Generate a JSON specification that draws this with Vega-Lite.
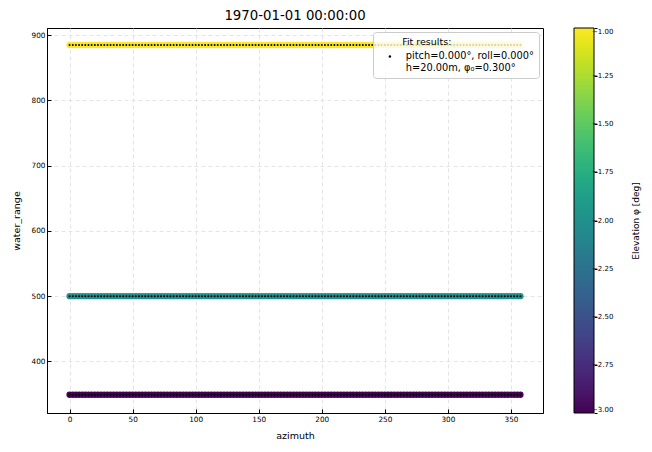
{
  "$schema": "https://vega.github.io/schema/vega-lite/v6.json",
  "width": 496,
  "height": 385,
  "autosize": "none",
  "padding": {"left": 47, "top": 28, "right": 109, "bottom": 39},
  "title": {"text": "1970-01-01 00:00:00", "fontSize": 13.3, "fontWeight": "normal", "font": "DejaVu Sans", "color": "black", "offset": 5},
  "datasets": {
    "points": [
      {"azimuth":0,"water_range":885,"elevation":-1},{"azimuth":2.5,"water_range":885,"elevation":-1},{"azimuth":5,"water_range":885,"elevation":-1},{"azimuth":7.5,"water_range":885,"elevation":-1},{"azimuth":10,"water_range":885,"elevation":-1},{"azimuth":12.5,"water_range":885,"elevation":-1},{"azimuth":15,"water_range":885,"elevation":-1},{"azimuth":17.5,"water_range":885,"elevation":-1},{"azimuth":20,"water_range":885,"elevation":-1},{"azimuth":22.5,"water_range":885,"elevation":-1},{"azimuth":25,"water_range":885,"elevation":-1},{"azimuth":27.5,"water_range":885,"elevation":-1},{"azimuth":30,"water_range":885,"elevation":-1},{"azimuth":32.5,"water_range":885,"elevation":-1},{"azimuth":35,"water_range":885,"elevation":-1},{"azimuth":37.5,"water_range":885,"elevation":-1},{"azimuth":40,"water_range":885,"elevation":-1},{"azimuth":42.5,"water_range":885,"elevation":-1},{"azimuth":45,"water_range":885,"elevation":-1},{"azimuth":47.5,"water_range":885,"elevation":-1},{"azimuth":50,"water_range":885,"elevation":-1},{"azimuth":52.5,"water_range":885,"elevation":-1},{"azimuth":55,"water_range":885,"elevation":-1},{"azimuth":57.5,"water_range":885,"elevation":-1},{"azimuth":60,"water_range":885,"elevation":-1},{"azimuth":62.5,"water_range":885,"elevation":-1},{"azimuth":65,"water_range":885,"elevation":-1},{"azimuth":67.5,"water_range":885,"elevation":-1},{"azimuth":70,"water_range":885,"elevation":-1},{"azimuth":72.5,"water_range":885,"elevation":-1},{"azimuth":75,"water_range":885,"elevation":-1},{"azimuth":77.5,"water_range":885,"elevation":-1},{"azimuth":80,"water_range":885,"elevation":-1},{"azimuth":82.5,"water_range":885,"elevation":-1},{"azimuth":85,"water_range":885,"elevation":-1},{"azimuth":87.5,"water_range":885,"elevation":-1},{"azimuth":90,"water_range":885,"elevation":-1},{"azimuth":92.5,"water_range":885,"elevation":-1},{"azimuth":95,"water_range":885,"elevation":-1},{"azimuth":97.5,"water_range":885,"elevation":-1},{"azimuth":100,"water_range":885,"elevation":-1},{"azimuth":102.5,"water_range":885,"elevation":-1},{"azimuth":105,"water_range":885,"elevation":-1},{"azimuth":107.5,"water_range":885,"elevation":-1},{"azimuth":110,"water_range":885,"elevation":-1},{"azimuth":112.5,"water_range":885,"elevation":-1},{"azimuth":115,"water_range":885,"elevation":-1},{"azimuth":117.5,"water_range":885,"elevation":-1},{"azimuth":120,"water_range":885,"elevation":-1},{"azimuth":122.5,"water_range":885,"elevation":-1},{"azimuth":125,"water_range":885,"elevation":-1},{"azimuth":127.5,"water_range":885,"elevation":-1},{"azimuth":130,"water_range":885,"elevation":-1},{"azimuth":132.5,"water_range":885,"elevation":-1},{"azimuth":135,"water_range":885,"elevation":-1},{"azimuth":137.5,"water_range":885,"elevation":-1},{"azimuth":140,"water_range":885,"elevation":-1},{"azimuth":142.5,"water_range":885,"elevation":-1},{"azimuth":145,"water_range":885,"elevation":-1},{"azimuth":147.5,"water_range":885,"elevation":-1},{"azimuth":150,"water_range":885,"elevation":-1},{"azimuth":152.5,"water_range":885,"elevation":-1},{"azimuth":155,"water_range":885,"elevation":-1},{"azimuth":157.5,"water_range":885,"elevation":-1},{"azimuth":160,"water_range":885,"elevation":-1},{"azimuth":162.5,"water_range":885,"elevation":-1},{"azimuth":165,"water_range":885,"elevation":-1},{"azimuth":167.5,"water_range":885,"elevation":-1},{"azimuth":170,"water_range":885,"elevation":-1},{"azimuth":172.5,"water_range":885,"elevation":-1},{"azimuth":175,"water_range":885,"elevation":-1},{"azimuth":177.5,"water_range":885,"elevation":-1},{"azimuth":180,"water_range":885,"elevation":-1},{"azimuth":182.5,"water_range":885,"elevation":-1},{"azimuth":185,"water_range":885,"elevation":-1},{"azimuth":187.5,"water_range":885,"elevation":-1},{"azimuth":190,"water_range":885,"elevation":-1},{"azimuth":192.5,"water_range":885,"elevation":-1},{"azimuth":195,"water_range":885,"elevation":-1},{"azimuth":197.5,"water_range":885,"elevation":-1},{"azimuth":200,"water_range":885,"elevation":-1},{"azimuth":202.5,"water_range":885,"elevation":-1},{"azimuth":205,"water_range":885,"elevation":-1},{"azimuth":207.5,"water_range":885,"elevation":-1},{"azimuth":210,"water_range":885,"elevation":-1},{"azimuth":212.5,"water_range":885,"elevation":-1},{"azimuth":215,"water_range":885,"elevation":-1},{"azimuth":217.5,"water_range":885,"elevation":-1},{"azimuth":220,"water_range":885,"elevation":-1},{"azimuth":222.5,"water_range":885,"elevation":-1},{"azimuth":225,"water_range":885,"elevation":-1},{"azimuth":227.5,"water_range":885,"elevation":-1},{"azimuth":230,"water_range":885,"elevation":-1},{"azimuth":232.5,"water_range":885,"elevation":-1},{"azimuth":235,"water_range":885,"elevation":-1},{"azimuth":237.5,"water_range":885,"elevation":-1},{"azimuth":240,"water_range":885,"elevation":-1},{"azimuth":242.5,"water_range":885,"elevation":-1},{"azimuth":245,"water_range":885,"elevation":-1},{"azimuth":247.5,"water_range":885,"elevation":-1},{"azimuth":250,"water_range":885,"elevation":-1},{"azimuth":252.5,"water_range":885,"elevation":-1},{"azimuth":255,"water_range":885,"elevation":-1},{"azimuth":257.5,"water_range":885,"elevation":-1},{"azimuth":260,"water_range":885,"elevation":-1},{"azimuth":262.5,"water_range":885,"elevation":-1},{"azimuth":265,"water_range":885,"elevation":-1},{"azimuth":267.5,"water_range":885,"elevation":-1},{"azimuth":270,"water_range":885,"elevation":-1},{"azimuth":272.5,"water_range":885,"elevation":-1},{"azimuth":275,"water_range":885,"elevation":-1},{"azimuth":277.5,"water_range":885,"elevation":-1},{"azimuth":280,"water_range":885,"elevation":-1},{"azimuth":282.5,"water_range":885,"elevation":-1},{"azimuth":285,"water_range":885,"elevation":-1},{"azimuth":287.5,"water_range":885,"elevation":-1},{"azimuth":290,"water_range":885,"elevation":-1},{"azimuth":292.5,"water_range":885,"elevation":-1},{"azimuth":295,"water_range":885,"elevation":-1},{"azimuth":297.5,"water_range":885,"elevation":-1},{"azimuth":300,"water_range":885,"elevation":-1},{"azimuth":302.5,"water_range":885,"elevation":-1},{"azimuth":305,"water_range":885,"elevation":-1},{"azimuth":307.5,"water_range":885,"elevation":-1},{"azimuth":310,"water_range":885,"elevation":-1},{"azimuth":312.5,"water_range":885,"elevation":-1},{"azimuth":315,"water_range":885,"elevation":-1},{"azimuth":317.5,"water_range":885,"elevation":-1},{"azimuth":320,"water_range":885,"elevation":-1},{"azimuth":322.5,"water_range":885,"elevation":-1},{"azimuth":325,"water_range":885,"elevation":-1},{"azimuth":327.5,"water_range":885,"elevation":-1},{"azimuth":330,"water_range":885,"elevation":-1},{"azimuth":332.5,"water_range":885,"elevation":-1},{"azimuth":335,"water_range":885,"elevation":-1},{"azimuth":337.5,"water_range":885,"elevation":-1},{"azimuth":340,"water_range":885,"elevation":-1},{"azimuth":342.5,"water_range":885,"elevation":-1},{"azimuth":345,"water_range":885,"elevation":-1},{"azimuth":347.5,"water_range":885,"elevation":-1},{"azimuth":350,"water_range":885,"elevation":-1},{"azimuth":352.5,"water_range":885,"elevation":-1},{"azimuth":355,"water_range":885,"elevation":-1},{"azimuth":357.5,"water_range":885,"elevation":-1},
      {"azimuth":0,"water_range":500,"elevation":-2},{"azimuth":2.5,"water_range":500,"elevation":-2},{"azimuth":5,"water_range":500,"elevation":-2},{"azimuth":7.5,"water_range":500,"elevation":-2},{"azimuth":10,"water_range":500,"elevation":-2},{"azimuth":12.5,"water_range":500,"elevation":-2},{"azimuth":15,"water_range":500,"elevation":-2},{"azimuth":17.5,"water_range":500,"elevation":-2},{"azimuth":20,"water_range":500,"elevation":-2},{"azimuth":22.5,"water_range":500,"elevation":-2},{"azimuth":25,"water_range":500,"elevation":-2},{"azimuth":27.5,"water_range":500,"elevation":-2},{"azimuth":30,"water_range":500,"elevation":-2},{"azimuth":32.5,"water_range":500,"elevation":-2},{"azimuth":35,"water_range":500,"elevation":-2},{"azimuth":37.5,"water_range":500,"elevation":-2},{"azimuth":40,"water_range":500,"elevation":-2},{"azimuth":42.5,"water_range":500,"elevation":-2},{"azimuth":45,"water_range":500,"elevation":-2},{"azimuth":47.5,"water_range":500,"elevation":-2},{"azimuth":50,"water_range":500,"elevation":-2},{"azimuth":52.5,"water_range":500,"elevation":-2},{"azimuth":55,"water_range":500,"elevation":-2},{"azimuth":57.5,"water_range":500,"elevation":-2},{"azimuth":60,"water_range":500,"elevation":-2},{"azimuth":62.5,"water_range":500,"elevation":-2},{"azimuth":65,"water_range":500,"elevation":-2},{"azimuth":67.5,"water_range":500,"elevation":-2},{"azimuth":70,"water_range":500,"elevation":-2},{"azimuth":72.5,"water_range":500,"elevation":-2},{"azimuth":75,"water_range":500,"elevation":-2},{"azimuth":77.5,"water_range":500,"elevation":-2},{"azimuth":80,"water_range":500,"elevation":-2},{"azimuth":82.5,"water_range":500,"elevation":-2},{"azimuth":85,"water_range":500,"elevation":-2},{"azimuth":87.5,"water_range":500,"elevation":-2},{"azimuth":90,"water_range":500,"elevation":-2},{"azimuth":92.5,"water_range":500,"elevation":-2},{"azimuth":95,"water_range":500,"elevation":-2},{"azimuth":97.5,"water_range":500,"elevation":-2},{"azimuth":100,"water_range":500,"elevation":-2},{"azimuth":102.5,"water_range":500,"elevation":-2},{"azimuth":105,"water_range":500,"elevation":-2},{"azimuth":107.5,"water_range":500,"elevation":-2},{"azimuth":110,"water_range":500,"elevation":-2},{"azimuth":112.5,"water_range":500,"elevation":-2},{"azimuth":115,"water_range":500,"elevation":-2},{"azimuth":117.5,"water_range":500,"elevation":-2},{"azimuth":120,"water_range":500,"elevation":-2},{"azimuth":122.5,"water_range":500,"elevation":-2},{"azimuth":125,"water_range":500,"elevation":-2},{"azimuth":127.5,"water_range":500,"elevation":-2},{"azimuth":130,"water_range":500,"elevation":-2},{"azimuth":132.5,"water_range":500,"elevation":-2},{"azimuth":135,"water_range":500,"elevation":-2},{"azimuth":137.5,"water_range":500,"elevation":-2},{"azimuth":140,"water_range":500,"elevation":-2},{"azimuth":142.5,"water_range":500,"elevation":-2},{"azimuth":145,"water_range":500,"elevation":-2},{"azimuth":147.5,"water_range":500,"elevation":-2},{"azimuth":150,"water_range":500,"elevation":-2},{"azimuth":152.5,"water_range":500,"elevation":-2},{"azimuth":155,"water_range":500,"elevation":-2},{"azimuth":157.5,"water_range":500,"elevation":-2},{"azimuth":160,"water_range":500,"elevation":-2},{"azimuth":162.5,"water_range":500,"elevation":-2},{"azimuth":165,"water_range":500,"elevation":-2},{"azimuth":167.5,"water_range":500,"elevation":-2},{"azimuth":170,"water_range":500,"elevation":-2},{"azimuth":172.5,"water_range":500,"elevation":-2},{"azimuth":175,"water_range":500,"elevation":-2},{"azimuth":177.5,"water_range":500,"elevation":-2},{"azimuth":180,"water_range":500,"elevation":-2},{"azimuth":182.5,"water_range":500,"elevation":-2},{"azimuth":185,"water_range":500,"elevation":-2},{"azimuth":187.5,"water_range":500,"elevation":-2},{"azimuth":190,"water_range":500,"elevation":-2},{"azimuth":192.5,"water_range":500,"elevation":-2},{"azimuth":195,"water_range":500,"elevation":-2},{"azimuth":197.5,"water_range":500,"elevation":-2},{"azimuth":200,"water_range":500,"elevation":-2},{"azimuth":202.5,"water_range":500,"elevation":-2},{"azimuth":205,"water_range":500,"elevation":-2},{"azimuth":207.5,"water_range":500,"elevation":-2},{"azimuth":210,"water_range":500,"elevation":-2},{"azimuth":212.5,"water_range":500,"elevation":-2},{"azimuth":215,"water_range":500,"elevation":-2},{"azimuth":217.5,"water_range":500,"elevation":-2},{"azimuth":220,"water_range":500,"elevation":-2},{"azimuth":222.5,"water_range":500,"elevation":-2},{"azimuth":225,"water_range":500,"elevation":-2},{"azimuth":227.5,"water_range":500,"elevation":-2},{"azimuth":230,"water_range":500,"elevation":-2},{"azimuth":232.5,"water_range":500,"elevation":-2},{"azimuth":235,"water_range":500,"elevation":-2},{"azimuth":237.5,"water_range":500,"elevation":-2},{"azimuth":240,"water_range":500,"elevation":-2},{"azimuth":242.5,"water_range":500,"elevation":-2},{"azimuth":245,"water_range":500,"elevation":-2},{"azimuth":247.5,"water_range":500,"elevation":-2},{"azimuth":250,"water_range":500,"elevation":-2},{"azimuth":252.5,"water_range":500,"elevation":-2},{"azimuth":255,"water_range":500,"elevation":-2},{"azimuth":257.5,"water_range":500,"elevation":-2},{"azimuth":260,"water_range":500,"elevation":-2},{"azimuth":262.5,"water_range":500,"elevation":-2},{"azimuth":265,"water_range":500,"elevation":-2},{"azimuth":267.5,"water_range":500,"elevation":-2},{"azimuth":270,"water_range":500,"elevation":-2},{"azimuth":272.5,"water_range":500,"elevation":-2},{"azimuth":275,"water_range":500,"elevation":-2},{"azimuth":277.5,"water_range":500,"elevation":-2},{"azimuth":280,"water_range":500,"elevation":-2},{"azimuth":282.5,"water_range":500,"elevation":-2},{"azimuth":285,"water_range":500,"elevation":-2},{"azimuth":287.5,"water_range":500,"elevation":-2},{"azimuth":290,"water_range":500,"elevation":-2},{"azimuth":292.5,"water_range":500,"elevation":-2},{"azimuth":295,"water_range":500,"elevation":-2},{"azimuth":297.5,"water_range":500,"elevation":-2},{"azimuth":300,"water_range":500,"elevation":-2},{"azimuth":302.5,"water_range":500,"elevation":-2},{"azimuth":305,"water_range":500,"elevation":-2},{"azimuth":307.5,"water_range":500,"elevation":-2},{"azimuth":310,"water_range":500,"elevation":-2},{"azimuth":312.5,"water_range":500,"elevation":-2},{"azimuth":315,"water_range":500,"elevation":-2},{"azimuth":317.5,"water_range":500,"elevation":-2},{"azimuth":320,"water_range":500,"elevation":-2},{"azimuth":322.5,"water_range":500,"elevation":-2},{"azimuth":325,"water_range":500,"elevation":-2},{"azimuth":327.5,"water_range":500,"elevation":-2},{"azimuth":330,"water_range":500,"elevation":-2},{"azimuth":332.5,"water_range":500,"elevation":-2},{"azimuth":335,"water_range":500,"elevation":-2},{"azimuth":337.5,"water_range":500,"elevation":-2},{"azimuth":340,"water_range":500,"elevation":-2},{"azimuth":342.5,"water_range":500,"elevation":-2},{"azimuth":345,"water_range":500,"elevation":-2},{"azimuth":347.5,"water_range":500,"elevation":-2},{"azimuth":350,"water_range":500,"elevation":-2},{"azimuth":352.5,"water_range":500,"elevation":-2},{"azimuth":355,"water_range":500,"elevation":-2},{"azimuth":357.5,"water_range":500,"elevation":-2},
      {"azimuth":0,"water_range":349,"elevation":-3},{"azimuth":2.5,"water_range":349,"elevation":-3},{"azimuth":5,"water_range":349,"elevation":-3},{"azimuth":7.5,"water_range":349,"elevation":-3},{"azimuth":10,"water_range":349,"elevation":-3},{"azimuth":12.5,"water_range":349,"elevation":-3},{"azimuth":15,"water_range":349,"elevation":-3},{"azimuth":17.5,"water_range":349,"elevation":-3},{"azimuth":20,"water_range":349,"elevation":-3},{"azimuth":22.5,"water_range":349,"elevation":-3},{"azimuth":25,"water_range":349,"elevation":-3},{"azimuth":27.5,"water_range":349,"elevation":-3},{"azimuth":30,"water_range":349,"elevation":-3},{"azimuth":32.5,"water_range":349,"elevation":-3},{"azimuth":35,"water_range":349,"elevation":-3},{"azimuth":37.5,"water_range":349,"elevation":-3},{"azimuth":40,"water_range":349,"elevation":-3},{"azimuth":42.5,"water_range":349,"elevation":-3},{"azimuth":45,"water_range":349,"elevation":-3},{"azimuth":47.5,"water_range":349,"elevation":-3},{"azimuth":50,"water_range":349,"elevation":-3},{"azimuth":52.5,"water_range":349,"elevation":-3},{"azimuth":55,"water_range":349,"elevation":-3},{"azimuth":57.5,"water_range":349,"elevation":-3},{"azimuth":60,"water_range":349,"elevation":-3},{"azimuth":62.5,"water_range":349,"elevation":-3},{"azimuth":65,"water_range":349,"elevation":-3},{"azimuth":67.5,"water_range":349,"elevation":-3},{"azimuth":70,"water_range":349,"elevation":-3},{"azimuth":72.5,"water_range":349,"elevation":-3},{"azimuth":75,"water_range":349,"elevation":-3},{"azimuth":77.5,"water_range":349,"elevation":-3},{"azimuth":80,"water_range":349,"elevation":-3},{"azimuth":82.5,"water_range":349,"elevation":-3},{"azimuth":85,"water_range":349,"elevation":-3},{"azimuth":87.5,"water_range":349,"elevation":-3},{"azimuth":90,"water_range":349,"elevation":-3},{"azimuth":92.5,"water_range":349,"elevation":-3},{"azimuth":95,"water_range":349,"elevation":-3},{"azimuth":97.5,"water_range":349,"elevation":-3},{"azimuth":100,"water_range":349,"elevation":-3},{"azimuth":102.5,"water_range":349,"elevation":-3},{"azimuth":105,"water_range":349,"elevation":-3},{"azimuth":107.5,"water_range":349,"elevation":-3},{"azimuth":110,"water_range":349,"elevation":-3},{"azimuth":112.5,"water_range":349,"elevation":-3},{"azimuth":115,"water_range":349,"elevation":-3},{"azimuth":117.5,"water_range":349,"elevation":-3},{"azimuth":120,"water_range":349,"elevation":-3},{"azimuth":122.5,"water_range":349,"elevation":-3},{"azimuth":125,"water_range":349,"elevation":-3},{"azimuth":127.5,"water_range":349,"elevation":-3},{"azimuth":130,"water_range":349,"elevation":-3},{"azimuth":132.5,"water_range":349,"elevation":-3},{"azimuth":135,"water_range":349,"elevation":-3},{"azimuth":137.5,"water_range":349,"elevation":-3},{"azimuth":140,"water_range":349,"elevation":-3},{"azimuth":142.5,"water_range":349,"elevation":-3},{"azimuth":145,"water_range":349,"elevation":-3},{"azimuth":147.5,"water_range":349,"elevation":-3},{"azimuth":150,"water_range":349,"elevation":-3},{"azimuth":152.5,"water_range":349,"elevation":-3},{"azimuth":155,"water_range":349,"elevation":-3},{"azimuth":157.5,"water_range":349,"elevation":-3},{"azimuth":160,"water_range":349,"elevation":-3},{"azimuth":162.5,"water_range":349,"elevation":-3},{"azimuth":165,"water_range":349,"elevation":-3},{"azimuth":167.5,"water_range":349,"elevation":-3},{"azimuth":170,"water_range":349,"elevation":-3},{"azimuth":172.5,"water_range":349,"elevation":-3},{"azimuth":175,"water_range":349,"elevation":-3},{"azimuth":177.5,"water_range":349,"elevation":-3},{"azimuth":180,"water_range":349,"elevation":-3},{"azimuth":182.5,"water_range":349,"elevation":-3},{"azimuth":185,"water_range":349,"elevation":-3},{"azimuth":187.5,"water_range":349,"elevation":-3},{"azimuth":190,"water_range":349,"elevation":-3},{"azimuth":192.5,"water_range":349,"elevation":-3},{"azimuth":195,"water_range":349,"elevation":-3},{"azimuth":197.5,"water_range":349,"elevation":-3},{"azimuth":200,"water_range":349,"elevation":-3},{"azimuth":202.5,"water_range":349,"elevation":-3},{"azimuth":205,"water_range":349,"elevation":-3},{"azimuth":207.5,"water_range":349,"elevation":-3},{"azimuth":210,"water_range":349,"elevation":-3},{"azimuth":212.5,"water_range":349,"elevation":-3},{"azimuth":215,"water_range":349,"elevation":-3},{"azimuth":217.5,"water_range":349,"elevation":-3},{"azimuth":220,"water_range":349,"elevation":-3},{"azimuth":222.5,"water_range":349,"elevation":-3},{"azimuth":225,"water_range":349,"elevation":-3},{"azimuth":227.5,"water_range":349,"elevation":-3},{"azimuth":230,"water_range":349,"elevation":-3},{"azimuth":232.5,"water_range":349,"elevation":-3},{"azimuth":235,"water_range":349,"elevation":-3},{"azimuth":237.5,"water_range":349,"elevation":-3},{"azimuth":240,"water_range":349,"elevation":-3},{"azimuth":242.5,"water_range":349,"elevation":-3},{"azimuth":245,"water_range":349,"elevation":-3},{"azimuth":247.5,"water_range":349,"elevation":-3},{"azimuth":250,"water_range":349,"elevation":-3},{"azimuth":252.5,"water_range":349,"elevation":-3},{"azimuth":255,"water_range":349,"elevation":-3},{"azimuth":257.5,"water_range":349,"elevation":-3},{"azimuth":260,"water_range":349,"elevation":-3},{"azimuth":262.5,"water_range":349,"elevation":-3},{"azimuth":265,"water_range":349,"elevation":-3},{"azimuth":267.5,"water_range":349,"elevation":-3},{"azimuth":270,"water_range":349,"elevation":-3},{"azimuth":272.5,"water_range":349,"elevation":-3},{"azimuth":275,"water_range":349,"elevation":-3},{"azimuth":277.5,"water_range":349,"elevation":-3},{"azimuth":280,"water_range":349,"elevation":-3},{"azimuth":282.5,"water_range":349,"elevation":-3},{"azimuth":285,"water_range":349,"elevation":-3},{"azimuth":287.5,"water_range":349,"elevation":-3},{"azimuth":290,"water_range":349,"elevation":-3},{"azimuth":292.5,"water_range":349,"elevation":-3},{"azimuth":295,"water_range":349,"elevation":-3},{"azimuth":297.5,"water_range":349,"elevation":-3},{"azimuth":300,"water_range":349,"elevation":-3},{"azimuth":302.5,"water_range":349,"elevation":-3},{"azimuth":305,"water_range":349,"elevation":-3},{"azimuth":307.5,"water_range":349,"elevation":-3},{"azimuth":310,"water_range":349,"elevation":-3},{"azimuth":312.5,"water_range":349,"elevation":-3},{"azimuth":315,"water_range":349,"elevation":-3},{"azimuth":317.5,"water_range":349,"elevation":-3},{"azimuth":320,"water_range":349,"elevation":-3},{"azimuth":322.5,"water_range":349,"elevation":-3},{"azimuth":325,"water_range":349,"elevation":-3},{"azimuth":327.5,"water_range":349,"elevation":-3},{"azimuth":330,"water_range":349,"elevation":-3},{"azimuth":332.5,"water_range":349,"elevation":-3},{"azimuth":335,"water_range":349,"elevation":-3},{"azimuth":337.5,"water_range":349,"elevation":-3},{"azimuth":340,"water_range":349,"elevation":-3},{"azimuth":342.5,"water_range":349,"elevation":-3},{"azimuth":345,"water_range":349,"elevation":-3},{"azimuth":347.5,"water_range":349,"elevation":-3},{"azimuth":350,"water_range":349,"elevation":-3},{"azimuth":352.5,"water_range":349,"elevation":-3},{"azimuth":355,"water_range":349,"elevation":-3},{"azimuth":357.5,"water_range":349,"elevation":-3}
    ]
  },
  "data": {"name": "points"},
  "encoding": {
    "x": {"field": "azimuth", "type": "quantitative", "scale": {"domain": [-17.9, 375.4], "nice": false, "zero": false},
      "axis": {"title": "azimuth", "values": [0, 50, 100, 150, 200, 250, 300, 350]}}
  },
  "layer": [
    {
      "mark": {"type": "point", "filled": true, "shape": "circle", "size": 40, "opacity": 1},
      "encoding": {
        "y": {"field": "water_range", "type": "quantitative", "scale": {"domain": [321, 911], "nice": false, "zero": false},
          "axis": {"title": "water_range", "values": [400, 500, 600, 700, 800, 900]}},
        "color": {"field": "elevation", "type": "quantitative",
          "scale": {"scheme": "viridis", "domain": [-3, -1]},
          "legend": {"title": null, "orient": "none", "legendX": 527, "legendY": 0, "direction": "vertical",
            "gradientLength": 385, "gradientThickness": 20, "gradientStrokeColor": "black", "gradientStrokeWidth": 1,
            "values": [-3, -2.75, -2.5, -2.25, -2, -1.75, -1.5, -1.25, -1], "format": ".2f",
            "labelFontSize": 7, "labelColor": "black", "labelOffset": -2}
        }
      }
    },
    {
      "mark": {"type": "point", "filled": true, "color": "black", "size": 4, "opacity": 1},
      "encoding": {
        "y": {"field": "water_range", "type": "quantitative", "scale": {"domain": [321, 911], "nice": false, "zero": false},
          "axis": {"orient": "right", "offset": 51, "values": [321, 394.75, 468.5, 542.25, 616, 689.75, 763.5, 837.25, 911],
            "labels": false, "domain": false, "grid": false, "tickSize": 3, "tickColor": "black",
            "title": "Elevation φ [deg]", "titleAngle": 270, "titleX": 41, "titleY": 192.5, "titleAlign": "center", "titleBaseline": "middle", "titleFontSize": 9}},
        "shape": {"datum": "fit", "type": "nominal", "scale": {"range": ["circle"]},
          "legend": {"title": "\u200b\u00a0\u00a0\u00a0\u00a0\u00a0\u00a0\u00a0\u00a0Fit results:", "orient": "top-right", "offset": 4,
            "labelExpr": "['pitch=0.000°, roll=0.000°', 'h=20.00m, φ₀=0.300°']",
            "symbolFillColor": "black", "symbolStrokeColor": "black", "symbolSize": 6, "symbolOffset": 7, "labelOffset": 11,
            "labelFontSize": 9.8, "titleFontSize": 9.5, "titleFontWeight": "normal", "labelColor": "black", "titleColor": "black",
            "titlePadding": 5, "labelLimit": 300,
            "fillColor": "rgba(255,255,255,0.8)", "strokeColor": "#cccccc", "cornerRadius": 3, "padding": 5,
            "titleAnchor": "start",
            "encode": {"labels": {"update": {"lineHeight": {"value": 14.5}}}}}
        }
      }
    }
  ],
  "resolve": {"scale": {"y": "independent"}, "axis": {"y": "independent"}},
  "config": {
    "font": "DejaVu Sans",
    "view": {"stroke": "black", "strokeWidth": 1},
    "axis": {
      "domainColor": "black", "tickColor": "black", "tickSize": -4, "labelFontSize": 7.3, "labelColor": "black",
      "titleFontSize": 9.5, "titleFontWeight": "normal", "titleColor": "black",
      "gridColor": "#dddddd", "gridDash": [4, 3], "gridWidth": 0.8
    },
    "axisX": {"labelPadding": 6, "titlePadding": 8},
    "axisY": {"labelPadding": 6, "titlePadding": 10}
  }
}
